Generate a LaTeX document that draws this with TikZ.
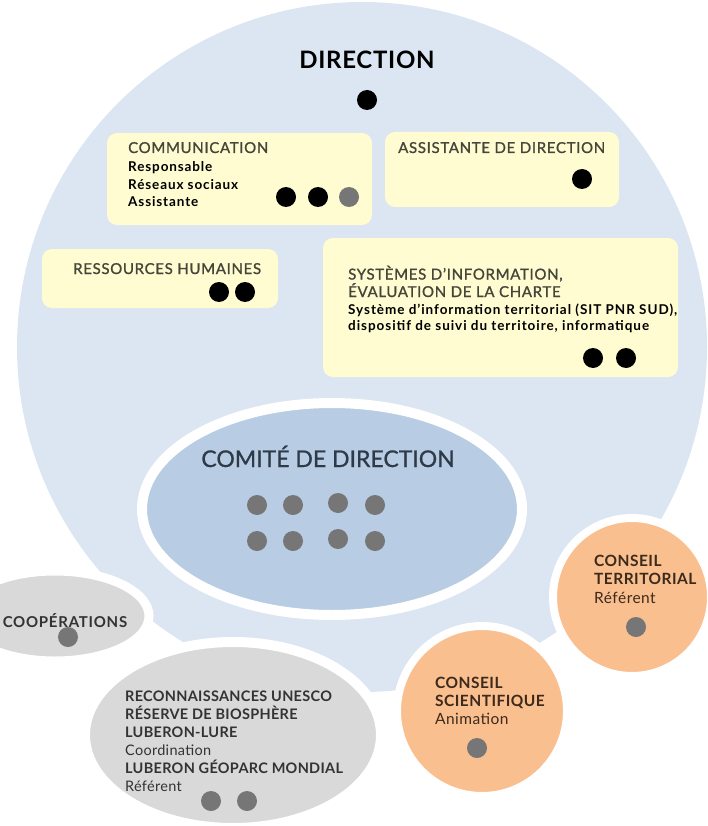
\documentclass[tikz,border=0pt]{standalone}
\usepackage{fontspec}
\setmainfont{Lato}
\usetikzlibrary{positioning,shapes.geometric}

\definecolor{bleuclair}{HTML}{DCE6F2}
\definecolor{bleucodir}{HTML}{B8CCE4}
\definecolor{jaune}{HTML}{FFFCD2}
\definecolor{grisbulle}{HTML}{D9D9D9}
\definecolor{saumon}{HTML}{FABF8F}
\definecolor{pastille}{HTML}{767676}
\definecolor{olive}{HTML}{45453A}
\definecolor{ardoise}{HTML}{2E3A48}
\definecolor{brun}{HTML}{3C2A1C}
\definecolor{anthracite}{HTML}{333333}

\begin{document}
\begin{tikzpicture}[x=1pt,y=-1pt,
    box/.style={fill=jaune,rounded corners=10pt,inner sep=0},
    bulle/.style={ellipse,draw=white,line width=9pt,inner sep=0},
    rond/.style={circle,draw=white,line width=8pt,fill=saumon,inner sep=0},
    pion/.style={circle,fill=black,minimum size=20pt,inner sep=0},
    membre/.style={pion,fill=pastille},
    titre/.style={anchor=base west,inner sep=0,align=left,text=olive,font=\fontsize{15}{17.5}\selectfont\addfontfeatures{LetterSpace=4.5,FakeBold=1.2}},
    detail/.style={anchor=base west,inner sep=0,align=left,font=\bfseries\fontsize{13.5}{17.5}\selectfont\addfontfeatures{LetterSpace=6.5}},
    bloc/.style={anchor=base west,inner sep=0,align=left,font=\fontsize{14.5}{18}\selectfont\addfontfeatures{LetterSpace=2}}]
  \useasboundingbox (0,0) rectangle (708,826);

  % fond de la direction
  \node[circle,fill=bleuclair,minimum size=690pt,inner sep=0] (parc) at (362,347) {};
  \node[anchor=base,inner sep=0,font=\bfseries\fontsize{24}{28}\selectfont\addfontfeatures{LetterSpace=3}] (direction) at (367,69) {DIRECTION};
  \node[pion] (dir) at (367,100) {};

  % services
  \node[box,minimum width=265pt,minimum height=92pt] (com) at (239.5,179) {};
  \node[titre] (comtitre) at (128,153) {COMMUNICATION};
  \node[detail] (comtexte) at (128,207) {Responsable\\Réseaux sociaux\\Assistante};
  \node[pion] (com1) at (286,197) {};
  \node[pion] (com2) at (318,197) {};
  \node[membre] (com3) at (349,197) {};

  \node[box,minimum width=234pt,minimum height=75pt] (assist) at (502,169.5) {};
  \node[titre] (assisttitre) at (398,153) {ASSISTANTE DE DIRECTION};
  \node[pion] (assist1) at (582,179) {};

  \node[box,minimum width=236pt,minimum height=59pt] (rh) at (160,278.5) {};
  \node[titre] (rhtitre) at (73,274) {RESSOURCES HUMAINES};
  \node[pion] (rh1) at (219,292) {};
  \node[pion] (rh2) at (245,292) {};

  \node[box,minimum width=355pt,minimum height=139pt] (si) at (500.5,307.5) {};
  \node[titre] (sititre) at (348,297) {SYSTÈMES D'INFORMATION,\\ÉVALUATION DE LA CHARTE};
  \node[detail,font=\bfseries\fontsize{13.5}{15.5}\selectfont\addfontfeatures{LetterSpace=7}] (sitexte) at (348,330) {Système d'information territorial (SIT PNR SUD),\\dispositif de suivi du territoire, informatique};
  \node[pion] (si1) at (593,358) {};
  \node[pion] (si2) at (626,358) {};

  % comite de direction
  \node[bulle,line width=10pt,fill=bleucodir,minimum width=380pt,minimum height=212pt] (codir) at (332,509) {};
  \node[anchor=base,inner sep=0,text=ardoise,font=\fontsize{23}{28}\selectfont\addfontfeatures{FakeBold=0.8}] (codirtitre) at (328,467) {COMITÉ DE DIRECTION};
  \foreach \x/\y [count=\i] in {257/505,293/505,338/503,375/505,257/541,293/541,338/539,375/541}
    \node[membre] (codir\i) at (\x,\y) {};

  % partenaires
  \node[bulle,fill=grisbulle,minimum width=188pt,minimum height=90pt] (coop) at (55,616) {};
  \node[anchor=base,inner sep=0,text=anthracite,font=\bfseries\fontsize{15}{17}\selectfont\addfontfeatures{LetterSpace=5}] (cooptitre) at (65,627) {COOPÉRATIONS};
  \node[membre] (coop1) at (68,637) {};

  \node[bulle,line width=10pt,fill=grisbulle,minimum width=296pt,minimum height=186pt] (unesco) at (233,735) {};
  \node[bloc,text=anthracite] (unescotexte) at (125,791.5) {\textbf{RECONNAISSANCES UNESCO}\\\textbf{RÉSERVE DE BIOSPHÈRE}\\\textbf{LUBERON-LURE}\\Coordination\\\textbf{LUBERON GÉOPARC MONDIAL}\\Référent};
  \node[membre] (unesco1) at (211,801) {};
  \node[membre] (unesco2) at (247,801) {};

  \node[rond,minimum size=158pt] (territ) at (632,597) {};
  \node[bloc,text=brun,font=\fontsize{15.5}{18.5}\selectfont\addfontfeatures{LetterSpace=3}] (territtexte) at (594,603) {\textbf{CONSEIL}\\\textbf{TERRITORIAL}\\Référent};
  \node[membre] (territ1) at (636,627) {};

  \node[rond,minimum size=170pt] (scient) at (482,711) {};
  \node[bloc,text=brun,font=\fontsize{15.5}{18}\selectfont\addfontfeatures{LetterSpace=3}] (scienttexte) at (435,724) {\textbf{CONSEIL}\\\textbf{SCIENTIFIQUE}\\Animation};
  \node[membre] (scient1) at (477,748) {};
\end{tikzpicture}
\end{document}
